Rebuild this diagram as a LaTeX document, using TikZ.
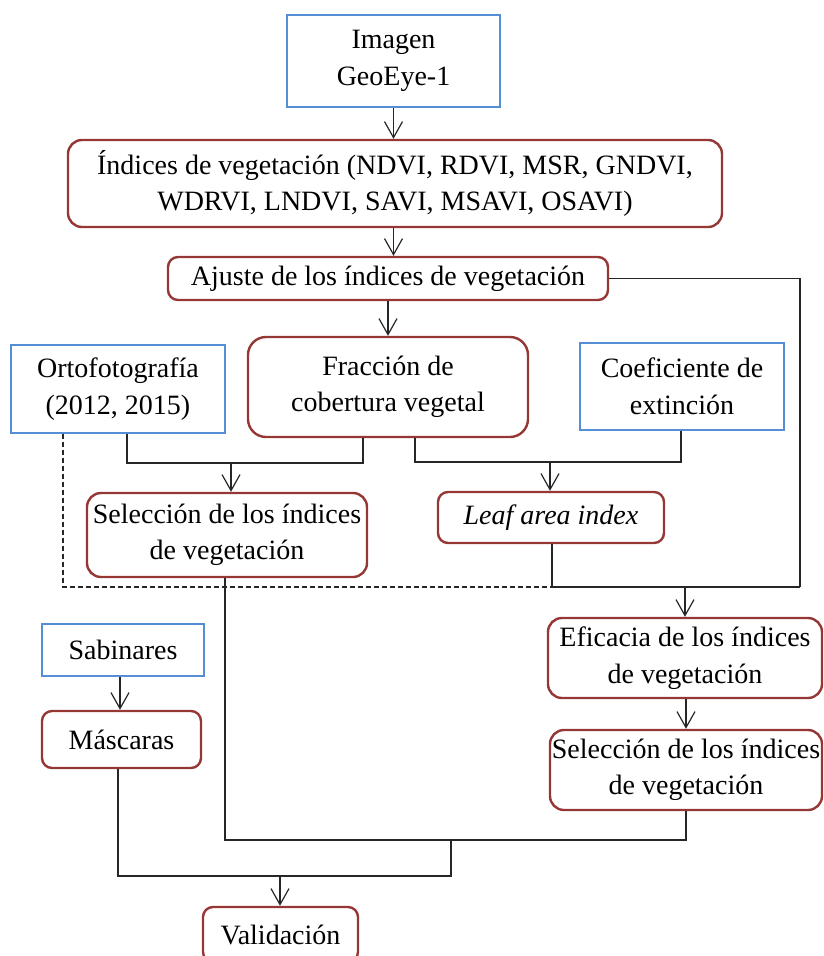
\documentclass[tikz,border=0pt]{standalone}
\usepackage{fontspec}
\setmainfont{Liberation Serif}
\usetikzlibrary{arrows.meta}
\definecolor{bluebox}{HTML}{558ED5}
\definecolor{redbox}{HTML}{953735}
\begin{document}
\begin{tikzpicture}[x=1pt,y=-1pt,
  every node/.style={font=\fontsize{28}{36.5}\selectfont, align=center, inner sep=0pt},
  bluebox/.style={draw=bluebox, line width=2.4pt},
  redbox/.style={draw=redbox, line width=2.4pt, rounded corners=14pt},
  conn/.style={line width=1.2pt, draw=black!85},
  arr/.style={conn, -{Straight Barb[length=16pt,width=18pt,line width=1.2pt]}},
  dashline/.style={conn, dashed, dash pattern=on 5pt off 3pt}
]
\useasboundingbox (0,0) rectangle (824,956);

\node[bluebox, minimum width=213pt, minimum height=92pt] (img) at (393.5,61) {Imagen\\GeoEye-1};
\node[redbox, minimum width=654pt, minimum height=87pt] (ind) at (395,183.5) {Índices de vegetación (NDVI, RDVI, MSR, GNDVI,\\WDRVI, LNDVI, SAVI, MSAVI, OSAVI)};
\node[redbox, rounded corners=10pt, minimum width=440pt, minimum height=43pt] (aju) at (388,278.5) {Ajuste de los índices de vegetación};
\node[redbox, rounded corners=18pt, minimum width=280pt, minimum height=100pt] (fra) at (388,387) {Fracción de\\cobertura vegetal};
\node[bluebox, minimum width=214pt, minimum height=88pt] (ort) at (118,389) {Ortofotografía\\(2012, 2015)};
\node[bluebox, minimum width=204pt, minimum height=87pt] (coe) at (682,386.5) {Coeficiente de\\extinción};
\node[redbox, minimum width=280pt, minimum height=84pt] (sel1) at (227,535) {Selección de los índices\\de vegetación};
\node[redbox, rounded corners=10pt, minimum width=226pt, minimum height=51pt] (lai) at (551,517.5) {\itshape Leaf area index};
\node[redbox, minimum width=274pt, minimum height=80pt] (efi) at (685,658) {Eficacia de los índices\\de vegetación};
\node[redbox, minimum width=272pt, minimum height=80pt] (sel2) at (686,770) {Selección de los índices\\de vegetación};
\node[bluebox, minimum width=162pt, minimum height=52pt] (sab) at (123,650) {Sabinares};
\node[redbox, rounded corners=10pt, minimum width=159pt, minimum height=57pt] (mas) at (121.5,739.5) {Máscaras};
\node[redbox, rounded corners=10pt, minimum width=155pt, minimum height=55pt] (val) at (280.5,934.5) {Validación};

% junction coordinates
\coordinate (jR) at (800,587);
\coordinate (jL) at (552,587);
\coordinate (jA) at (231,463);
\coordinate (jB) at (550,462);
\coordinate (jC) at (451,840);
\coordinate (jD) at (280,876);

\draw[arr] (img.south) -- (img.south |- ind.north);
\draw[arr] (ind.south -| img.south) -- (img.south |- aju.north);
\draw[arr] (aju.south) -- (fra.north);

% Ajuste to the right
\draw[conn] (aju.east) -| (jR);
\draw[conn] (lai.south -| jL) -- (jL) -- (jR);
\draw[arr] (jL -| efi.north) -- (efi.north);
\draw[dashline] (ort.south -| 63,0) |- (jL);

% Orto + Fraccion -> Seleccion
\draw[conn] (ort.south -| 127,0) |- (jA) -| (fra.south -| 363,0);
\draw[arr] (jA) -- (jA |- sel1.north);

% Fraccion + Coef -> LAI
\draw[conn] (fra.south -| 415,0) |- (jB) -| (coe.south -| 681,0);
\draw[arr] (jB) -- (jB |- lai.north);

\draw[arr] (efi.south -| sel2.north) -- (sel2.north);
\draw[arr] (sab.south -| 120,0) -- (mas.north -| 120,0);

% to Validacion
\draw[conn] (sel1.south -| 225,0) |- (jC) -| (sel2.south);
\draw[conn] (mas.south -| 118,0) |- (jD) -| (jC);
\draw[arr] (jD) -- (jD |- val.north);
\end{tikzpicture}
\end{document}
